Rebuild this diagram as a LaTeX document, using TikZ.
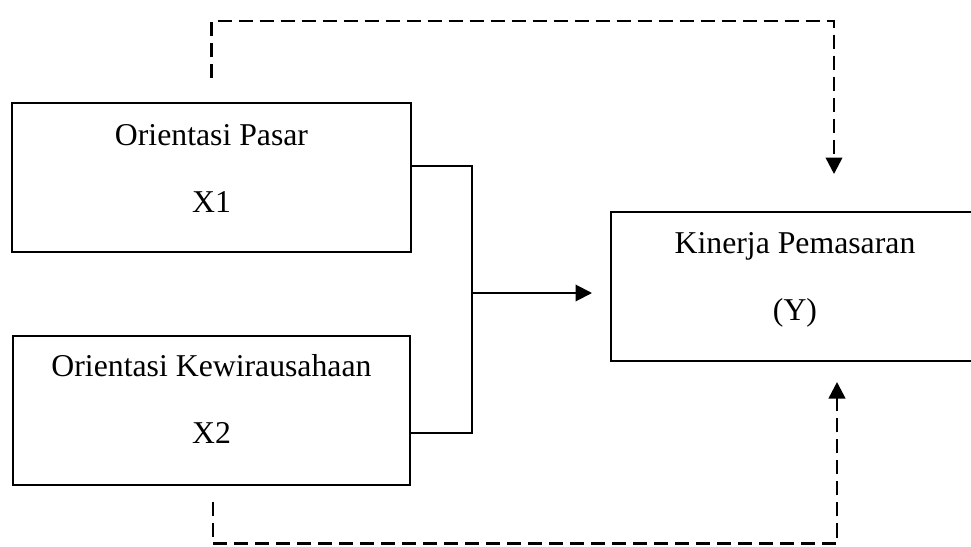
\documentclass[tikz,border=0pt]{standalone}
\usepackage{fontspec}
\setmainfont{Liberation Serif}
\usetikzlibrary{arrows.meta}

\begin{document}
\begin{tikzpicture}[x=0.4pt,y=-0.4pt,>={Triangle[length=6.6pt,width=6.6pt]},
  every node/.style={font=\fontsize{12.7}{15}\selectfont},
  varbox/.style={draw,line width=0.8pt,inner sep=0pt,minimum height=59.6pt},
  label/.style={align=center,inner sep=0pt},
  solid line/.style={line width=0.8pt},
  dash line/.style={line width=1pt,dash pattern=on 5.6pt off 2.8pt}]
  \useasboundingbox (0,0) rectangle (971,546);
  \node[varbox,minimum width=159.6pt] (x1box) at (211.5,177.5) {};
  \node[label] (x1text) at (211.5,168.5) {Orientasi Pasar\\[11.6pt]X1};
  \node[varbox,minimum width=158.8pt] (x2box) at (211.5,410) {};
  \node[label] (x2text) at (211.5,399) {Orientasi Kewirausahaan\\[11.6pt]X2};
  \node[varbox,minimum width=147.2pt] (ybox) at (795,286.5) {};
  \node[label] (ytext) at (795,280) {Kinerja Pemasaran\\[11.6pt](Y)};
  \coordinate (jtop) at (472,166);
  \coordinate (jmid) at (472,293);
  \coordinate (jbot) at (472,433);
  \coordinate (tip) at (592,293);
  \coordinate (ytop) at (834,174);
  \coordinate (ybot) at (837,382);
  \draw[solid line] (x1box.east |- jtop) -- (jtop) -- (jbot) -- (x2box.east |- jbot);
  \draw[solid line,->] (jmid) -- (tip);
  \draw[dash line,->] ([yshift=9.6pt]x1box.north) -- ++(0,-57) -| (ytop);
  \draw[dash line,->] ([yshift=-6.4pt,xshift=0.6pt]x2box.south) -- ++(0,42) -| (ybot);
\end{tikzpicture}
\end{document}
